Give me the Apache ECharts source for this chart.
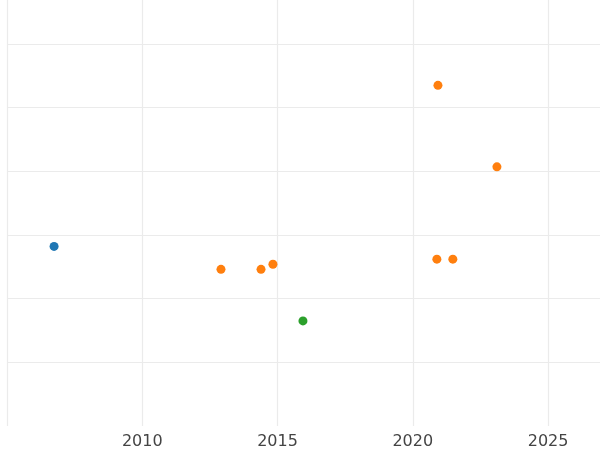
<!DOCTYPE html>
<html>
<head>
<meta charset="utf-8">
<script src="https://cdn.jsdelivr.net/npm/echarts@6/dist/echarts.min.js"></script>
<style>html,body{margin:0;padding:0;background:#fff}#chart{width:600px;height:450px}</style>
</head>
<body>
<div id="chart"></div>
<script>
var blueData = [[2006.74, 2.82]];
var orangeData = [[2012.91, 2.46], [2014.39, 2.46], [2014.83, 2.54], [2020.93, 5.35], [2023.11, 4.07], [2020.89, 2.62], [2021.48, 2.62]];
var greenData = [[2015.94, 1.65]];

var chart = echarts.init(document.getElementById('chart'));
var dot = function (data, color) {
	return { type: 'scatter', data: data, symbolSize: 9, itemStyle: { color: color, opacity: 1 }, animation: false };
};
chart.setOption({
	grid: { left: 7, right: 0, top: 0, bottom: 23 },
	xAxis: {
		type: 'value', min: 2005, max: 2026.92, interval: 5,
		axisLine: { show: false }, axisTick: { show: false },
		axisLabel: { color: '#444', fontSize: 16, fontFamily: 'DejaVu Sans', margin: 8,
			formatter: function (v) { return v === 2005 ? '' : String(v); } },
		splitLine: { showMaxLine: false, lineStyle: { color: '#ebebeb', width: 1.2 } }
	},
	yAxis: {
		type: 'value', min: 0, max: 6.69, interval: 1,
		axisLine: { show: false }, axisTick: { show: false }, axisLabel: { show: false },
		splitLine: { showMaxLine: false, showMinLine: false, lineStyle: { color: '#ebebeb', width: 1.2 } }
	},
	series: [dot(blueData, '#1f77b4'), dot(orangeData, '#ff7f0e'), dot(greenData, '#2ca02c')]
});
</script>
</body>
</html>
